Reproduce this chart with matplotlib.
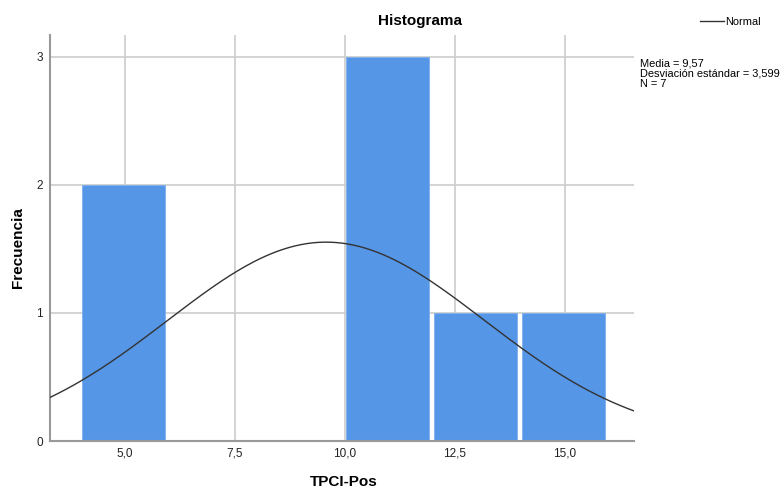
import matplotlib
matplotlib.use('Agg')
import matplotlib.pyplot as plt
import numpy as np

plt.rcParams['font.family'] = ['Liberation Sans', 'DejaVu Sans']

# histogram bins and counts
bin_left = [4, 6, 8, 10, 12, 14]
counts = [2, 0, 0, 3, 1, 1]
bin_width = 2
media = 9.57
desv = 3.599
n = 7
x_ticks = [5.0, 7.5, 10.0, 12.5, 15.0]
x_labels = ['5,0', '7,5', '10,0', '12,5', '15,0']
y_ticks = [0, 1, 2, 3]

fig = plt.figure(figsize=(7.82, 4.9), dpi=100)
ax = fig.add_axes([0.064, 0.1, 0.747, 0.829])

ax.bar(np.array(bin_left) + 0.02, counts, width=bin_width - 0.12, align='edge',
       color='#5596e6', edgecolor='#7fb0ee', linewidth=0.6, zorder=2)

xs = np.linspace(3.3, 16.6, 300)
curve = n * bin_width / (desv * np.sqrt(2 * np.pi)) * np.exp(-0.5 * ((xs - media) / desv) ** 2)
ax.plot(xs, curve, color='#333333', linewidth=1, zorder=3, label='Normal')

ax.set_xlim(3.3, 16.57)
ax.set_ylim(0, 3.17)
ax.set_xticks(x_ticks)
ax.set_xticklabels(x_labels)
ax.set_yticks(y_ticks)
ax.tick_params(length=0, labelsize=8.5, colors='#222222', pad=5)
ax.grid(True, color='#cccccc', linewidth=1.2, zorder=0)
ax.set_axisbelow(True)
for s in ['top', 'right']:
    ax.spines[s].set_visible(False)
for s in ['left', 'bottom']:
    ax.spines[s].set_color('#999999')
    ax.spines[s].set_linewidth(1.5)

fig.text(0.537, 0.958, 'Histograma', ha='center', va='center', fontsize=11, fontweight='bold')
fig.text(0.023, 0.494, 'Frecuencia', ha='center', va='center', rotation=90, fontsize=11, fontweight='bold')
fig.text(0.439, 0.017, 'TPCI-Pos', ha='center', va='center', fontsize=11, fontweight='bold')

fig.text(0.819, 0.849, 'Media = 9,57\nDesviación estándar = 3,599\nN = 7',
         ha='left', va='center', fontsize=7.9, linespacing=1.05)
fig.legend(loc='upper right', bbox_to_anchor=(0.985, 0.985), frameon=False,
           fontsize=7.9, handlelength=2.2, handletextpad=0.1)

fig.savefig('out.png', dpi=100)
